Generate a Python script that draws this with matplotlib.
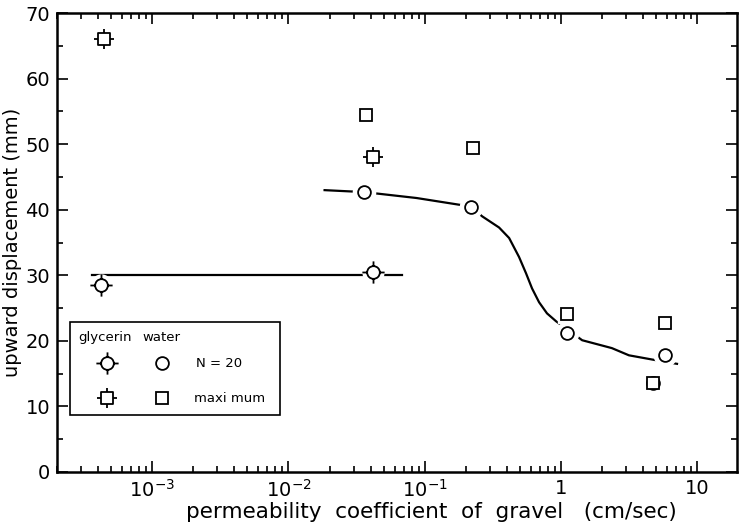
import numpy as np
import matplotlib
matplotlib.use("Agg")
from matplotlib import pyplot as plt
from matplotlib.path import Path
from matplotlib.patches import Rectangle
from matplotlib.ticker import FixedLocator, NullFormatter, LogLocator, MultipleLocator

# 読み取った値
gly_n20_x = [4.2e-4, 0.042]
gly_n20_y = [28.5, 30.5]
gly_max_x = [4.4e-4, 0.042]
gly_max_y = [66.0, 48.0]

water_n20_x = [0.036, 0.217, 1.1, 5.8, 4.7]
water_n20_y = [42.7, 40.5, 21.2, 17.8, 13.6]
water_max_x = [0.037, 0.225, 1.1, 5.8, 4.7]
water_max_y = [54.4, 49.4, 24.1, 22.7, 13.6]

# 手書きの近似曲線
gly_fit_x = [3.6e-4, 0.068]
gly_fit_y = [30.0, 30.0]
water_fit_x = [0.0184, 0.036, 0.087, 0.217, 0.264, 0.351, 0.416, 0.492, 0.554,
               0.613, 0.690, 0.789, 0.919, 1.43, 2.36, 3.15, 5.8, 7.1]
water_fit_y = [43.0, 42.7, 41.8, 40.5, 39.0, 37.3, 35.7, 32.8, 30.3,
               28.0, 25.9, 24.2, 23.0, 20.1, 18.9, 17.8, 16.8, 16.5]

xtick_vals = [1e-3, 1e-2, 1e-1, 1, 10]
xtick_labels = ['$10^{-3}$', '$10^{-2}$', '$10^{-1}$', '1', '10']

# 突起つきマーカー (グリセリン)
def spiked(base):
    s = 1.75
    spikes = [Path([[1, 0], [s, 0]]), Path([[-1, 0], [-s, 0]]),
              Path([[0, 1], [0, s]]), Path([[0, -1], [0, -s]])]
    return Path.make_compound_path(base, *spikes)

sq = Path([[-1, -1], [1, -1], [1, 1], [-1, 1], [-1, -1]],
          [Path.MOVETO, Path.LINETO, Path.LINETO, Path.LINETO, Path.CLOSEPOLY])
gly_circle = spiked(Path.unit_circle())
gly_square = spiked(sq)

plt.rcParams['font.family'] = ['DejaVu Sans']
fig = plt.figure(figsize=(7.45, 5.27), dpi=100)
ax = fig.add_axes([0.0765, 0.1044, 0.9125, 0.8706])

ax.plot(gly_fit_x, gly_fit_y, color='black', lw=1.6, zorder=2)
ax.plot(water_fit_x, water_fit_y, color='black', lw=1.6, zorder=2,
        solid_joinstyle='round')

# 線の切れ目 (白い縁)
halo = dict(ls='none', color='white', zorder=3)
ax.plot(gly_n20_x, gly_n20_y, marker='o', ms=15, **halo)
ax.plot(gly_max_x, gly_max_y, marker='s', ms=14, **halo)
ax.plot(water_n20_x, water_n20_y, marker='o', ms=16, **halo)
ax.plot(water_max_x, water_max_y, marker='s', ms=13, **halo)

mk = dict(ls='none', mec='black', mfc='white', mew=1.3, zorder=4)
ax.plot(gly_n20_x, gly_n20_y, marker=gly_circle, ms=16, **mk)
ax.plot(gly_max_x, gly_max_y, marker=gly_square, ms=15, **mk)
ax.plot(water_n20_x, water_n20_y, marker='o', ms=9.2, **mk)
ax.plot(water_max_x, water_max_y, marker='s', ms=8.6, **mk)

ax.set_xscale('log')
ax.set_xlim(2e-4, 19.5)
ax.set_ylim(0, 70)
ax.xaxis.set_major_locator(FixedLocator(xtick_vals))
ax.set_xticklabels(xtick_labels)
ax.xaxis.set_minor_locator(LogLocator(base=10, subs=np.arange(2, 10)))
ax.xaxis.set_minor_formatter(NullFormatter())
ax.yaxis.set_major_locator(MultipleLocator(10))
ax.yaxis.set_minor_locator(MultipleLocator(5))

ax.tick_params(which='both', direction='in', top=True, right=True, width=1.2, labelsize=14, pad=5)
ax.tick_params(which='major', length=8)
ax.tick_params(which='minor', length=4)
for sp in ax.spines.values():
    sp.set_linewidth(1.8)

ax.set_xlabel('permeability  coefficient  of  gravel   (cm/sec)', fontsize=15.5)
ax.xaxis.set_label_coords(0.55, -0.065)
ax.set_ylabel('upward displacement (mm)', fontsize=14)
ax.yaxis.set_label_coords(-0.052, 0.5)

# 凡例 (手書き風の枠)
ax.add_patch(Rectangle((0.019, 0.124), 0.309, 0.203, transform=ax.transAxes,
                       fill=True, facecolor='white', edgecolor='black', lw=1.2, zorder=5))
tkw = dict(transform=ax.transAxes, fontsize=9.5, va='center', zorder=6)
ax.text(0.031, 0.294, 'glycerin', **tkw)
ax.text(0.125, 0.294, 'water', **tkw)
ax.text(0.205, 0.237, 'N = 20', **tkw)
ax.text(0.202, 0.161, 'maxi mum', **tkw)
lkw = dict(transform=ax.transAxes, ls='none', mec='black', mfc='white', mew=1.3, zorder=6)
ax.plot([0.0735], [0.237], marker=gly_circle, ms=16, **lkw)
ax.plot([0.0735], [0.161], marker=gly_square, ms=15, **lkw)
ax.plot([0.154], [0.237], marker='o', ms=9.2, **lkw)
ax.plot([0.154], [0.161], marker='s', ms=8.6, **lkw)

fig.savefig('out.png', dpi=100)
plt.close(fig)
